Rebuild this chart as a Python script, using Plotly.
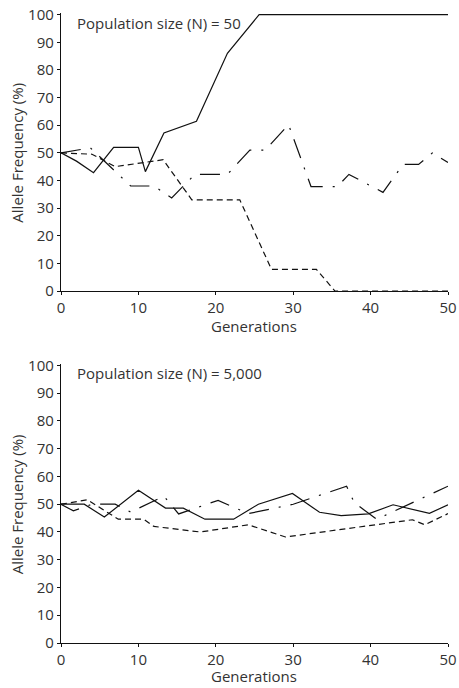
import plotly.graph_objects as go

# ---- data ----
top_solid_x = [0, 2, 4.2, 6.8, 10, 10.9, 13.3, 17.5, 21.5, 25.6, 50]
top_solid_y = [50, 47, 42.8, 52, 52, 43.2, 57.2, 61.4, 86, 100, 100]

top_dash_x = [0, 4, 7, 13.2, 16.9, 23.1, 27.2, 33, 35.4, 50]
top_dash_y = [50, 49.5, 45, 47.5, 33, 33, 7.8, 7.8, 0, 0]

top_dashdot_x = [0, 3.8, 9, 12, 14.3, 17.3, 21.5, 24.4, 26.4, 29.4, 32.3, 35.7, 37.2, 41.6, 44.2, 46.2, 48, 50]
top_dashdot_y = [50, 51.8, 38, 38, 33.7, 42.2, 42.2, 51, 51, 60.2, 37.8, 37.8, 42.2, 35.7, 45.8, 45.8, 50, 46.5]

bot_solid_x = [0, 3, 5.6, 10, 13.5, 15.8, 18.6, 22.3, 25.5, 29.9, 33.4, 36.2, 39.7, 42.9, 47.6, 50]
bot_solid_y = [50, 50, 45.4, 55, 48.6, 48.6, 44.6, 44.6, 50, 53.9, 47.1, 45.9, 46.5, 49.8, 46.7, 49.8]

bot_dash_x = [0, 3.4, 7.4, 10.7, 12, 18, 24.2, 29, 45.4, 47, 50]
bot_dash_y = [50, 51.6, 44.6, 44.6, 42, 40, 42.6, 38.2, 44.4, 42.6, 46.6]

bot_dashdot_x = [0, 1.6, 4, 7, 9, 13.3, 15.2, 20.3, 24.2, 30, 36.9, 37.9, 40.8, 50]
bot_dashdot_y = [50, 47.6, 50, 50, 47.2, 52.9, 46.5, 51.4, 46.6, 50, 56.5, 50.5, 44.6, 56.5]

x_ticks = [0, 10, 20, 30, 40, 50]
y_ticks = [0, 10, 20, 30, 40, 50, 60, 70, 80, 90, 100]

panel_titles = ["Population size (N) = 50", "Population size (N) = 5,000"]
x_title = "Generations"
y_title = "Allele Frequency (%)"

# ---- styling ----
FONT = "Open Sans"
TXT = "#333333"
LINE = "#111111"
LW = 1.2
DASH = "6px,4px"
DASHDOT = "20px,10px,2px,10px"

fig = go.Figure()

def add(x, y, dash, xa, ya):
    fig.add_trace(go.Scatter(x=x, y=y, mode="lines", xaxis=xa, yaxis=ya,
                             line=dict(color=LINE, width=LW, dash=dash),
                             showlegend=False, hoverinfo="skip"))

add(top_solid_x, top_solid_y, "solid", "x", "y")
add(top_dash_x, top_dash_y, DASH, "x", "y")
add(top_dashdot_x, top_dashdot_y, DASHDOT, "x", "y")
add(bot_solid_x, bot_solid_y, "solid", "x2", "y2")
add(bot_dash_x, bot_dash_y, DASH, "x2", "y2")
add(bot_dashdot_x, bot_dashdot_y, DASHDOT, "x2", "y2")

axis_common = dict(showline=True, linecolor=LINE, linewidth=1.3, ticks="outside",
                   ticklen=3, tickwidth=1.2, tickcolor=LINE, showgrid=False,
                   zeroline=False, automargin=False,
                   tickfont=dict(family=FONT, size=15, color=TXT))

fig.update_layout(
    width=459, height=688, autosize=False,
    margin=dict(l=61, r=11, t=13, b=45, autoexpand=False),
    paper_bgcolor="white", plot_bgcolor="white",
    font=dict(family=FONT, size=15, color=TXT),
    xaxis=dict(domain=[0, 1], range=[0, 50], tickvals=x_ticks, anchor="y", **axis_common),
    yaxis=dict(domain=[0.5587, 1], range=[0, 100.6], tickvals=y_ticks, anchor="x", **axis_common),
    xaxis2=dict(domain=[0, 1], range=[0, 50], tickvals=x_ticks, anchor="y2", **axis_common),
    yaxis2=dict(domain=[0, 0.4432], range=[0, 100.6], tickvals=y_ticks, anchor="x2", **axis_common),
)

ann = []
for ytxt, ttl in [(0.9846, panel_titles[0]), (0.4281, panel_titles[1])]:
    ann.append(dict(text=ttl, xref="paper", yref="paper", x=0.0362, y=ytxt,
                    xanchor="left", yanchor="middle", showarrow=False,
                    font=dict(family=FONT, size=15, color=TXT)))
for yg in [0.5030, -0.0530]:
    ann.append(dict(text=x_title, xref="paper", yref="paper", x=0.4987, y=yg,
                    xanchor="center", yanchor="middle", showarrow=False,
                    font=dict(family=FONT, size=15, color=TXT)))
for yc in [0.7783, 0.2202]:
    ann.append(dict(text=y_title, xref="paper", yref="paper", x=-0.1137, y=yc,
                    xanchor="center", yanchor="middle", textangle=-90, showarrow=False,
                    font=dict(family=FONT, size=15, color=TXT)))
fig.update_layout(annotations=ann)

post = ("document.body.style.margin='0';document.body.style.padding='0';"
        "document.body.style.overflow='hidden';"
        "document.documentElement.style.overflow='hidden';")
fig.write_html("out.html", post_script=post, config={"displayModeBar": False})
